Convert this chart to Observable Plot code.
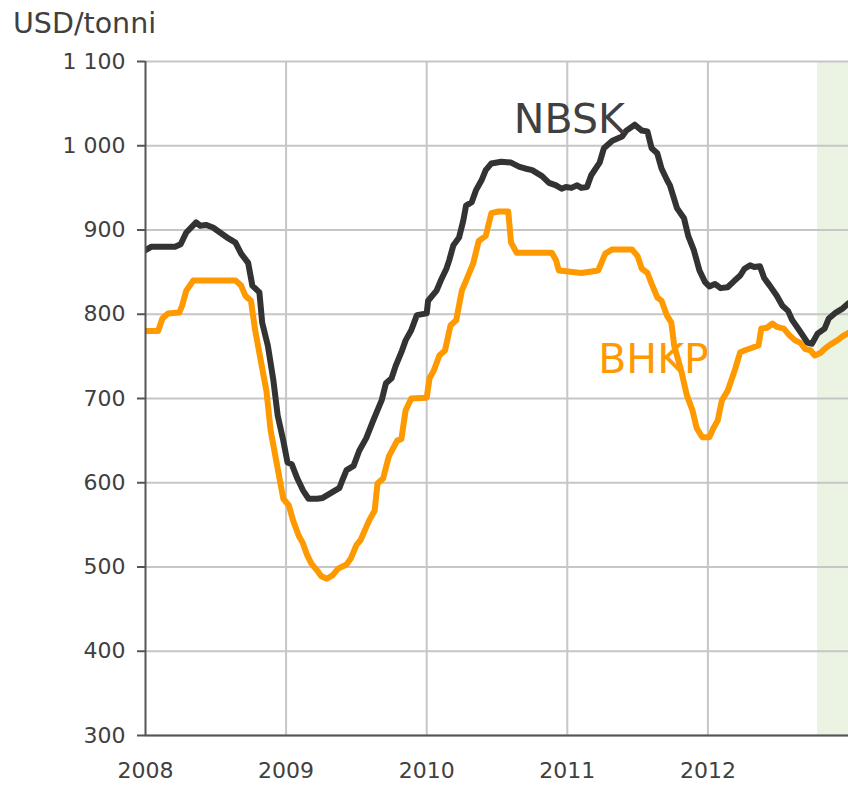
<!DOCTYPE html>
<html><head><meta charset="utf-8">
<script src="https://cdn.jsdelivr.net/npm/d3@7"></script>
<script src="https://cdn.jsdelivr.net/npm/@observablehq/plot@0.6"></script>
<style>
html,body{margin:0;padding:0;background:#fff;overflow:hidden;}
#title{height:45px;font-family:"DejaVu Sans",sans-serif;font-size:28.5px;color:#404040;padding-left:13px;line-height:48px;box-sizing:border-box;}
</style></head><body>
<div id="title">USD/tonni</div>
<div id="chart"></div>
<script>
const nbskYear = [2008.00,2008.04,2008.21,2008.25,2008.29,2008.36,2008.39,2008.43,2008.48,2008.53,2008.59,2008.64,2008.68,2008.73,2008.76,2008.81,2008.83,2008.87,2008.91,2008.94,2008.98,2009.01,2009.04,2009.08,2009.12,2009.16,2009.22,2009.26,2009.32,2009.38,2009.40,2009.43,2009.48,2009.52,2009.57,2009.62,2009.68,2009.71,2009.75,2009.78,2009.82,2009.85,2009.89,2009.93,2010.00,2010.01,2010.07,2010.10,2010.14,2010.16,2010.19,2010.23,2010.26,2010.28,2010.32,2010.35,2010.39,2010.42,2010.46,2010.53,2010.60,2010.66,2010.70,2010.75,2010.82,2010.87,2010.92,2010.96,2010.99,2011.03,2011.07,2011.10,2011.14,2011.17,2011.23,2011.26,2011.32,2011.39,2011.42,2011.48,2011.53,2011.57,2011.60,2011.64,2011.67,2011.71,2011.73,2011.78,2011.83,2011.86,2011.90,2011.94,2011.98,2012.01,2012.05,2012.09,2012.14,2012.19,2012.23,2012.26,2012.30,2012.33,2012.37,2012.40,2012.44,2012.49,2012.53,2012.57,2012.60,2012.65,2012.71,2012.74,2012.78,2012.83,2012.86,2012.91,2012.96,2013.00];
const nbskValue = [876,880,880,883,897,909,905,906,903,897,890,885,872,861,834,826,790,763,721,680,650,624,622,605,591,581,581,582,588,594,603,615,620,638,653,674,698,718,724,739,755,769,781,799,801,816,828,840,854,864,882,891,911,929,933,947,959,971,979,981,980,975,973,971,964,956,953,949,951,950,953,950,951,965,980,997,1006,1011,1018,1025,1018,1017,997,991,973,959,953,926,914,893,876,852,838,833,836,831,832,840,846,854,858,856,857,843,834,822,810,804,793,781,766,765,777,783,795,802,807,813];

const bhkpYear = [2008.00,2008.09,2008.12,2008.16,2008.24,2008.26,2008.29,2008.34,2008.64,2008.68,2008.71,2008.75,2008.78,2008.82,2008.86,2008.89,2008.93,2008.98,2009.02,2009.05,2009.09,2009.12,2009.15,2009.18,2009.22,2009.25,2009.29,2009.33,2009.37,2009.43,2009.46,2009.50,2009.53,2009.59,2009.63,2009.65,2009.69,2009.73,2009.79,2009.82,2009.85,2009.89,2010.00,2010.02,2010.05,2010.09,2010.13,2010.17,2010.21,2010.25,2010.28,2010.33,2010.37,2010.42,2010.46,2010.51,2010.58,2010.60,2010.64,2010.89,2010.92,2010.94,2010.99,2011.10,2011.22,2011.27,2011.32,2011.46,2011.50,2011.53,2011.57,2011.60,2011.64,2011.67,2011.71,2011.74,2011.76,2011.81,2011.85,2011.89,2011.92,2011.96,2012.01,2012.04,2012.07,2012.10,2012.14,2012.19,2012.23,2012.26,2012.31,2012.36,2012.38,2012.42,2012.46,2012.49,2012.54,2012.58,2012.62,2012.66,2012.69,2012.73,2012.76,2012.80,2012.83,2012.87,2012.92,2012.96,2013.00];
const bhkpValue = [780,780,795,801,802,810,828,840,840,834,822,816,781,745,709,662,626,581,573,555,537,528,514,504,496,489,486,490,498,503,510,526,532,555,567,599,605,631,650,652,686,700,701,724,733,751,757,787,793,828,840,860,887,893,920,922,922,885,873,873,864,852,851,849,852,872,877,877,869,854,849,836,820,816,798,790,763,733,704,686,665,654,654,665,674,698,709,733,755,757,760,763,783,784,789,785,783,775,769,766,759,757,751,754,759,764,769,774,778];

const yTicks = [300,400,500,600,700,800,900,1000,1100];
const xTicks = [2008,2009,2010,2011,2012];
const xGrid = [2009,2010,2011,2012];
const bandStart = [2012.78];
const bandEnd = [2013.0];
const seriesLabels = ["NBSK","BHKP"];
const labelYear = [2010.62, 2011.22];
const labelValue = [1031, 746];

const nbsk = nbskYear.map((x,i)=>({x, y:nbskValue[i]}));
const bhkp = bhkpYear.map((x,i)=>({x, y:bhkpValue[i]}));
const band = bandStart.map((s,i)=>({x1:s, x2:bandEnd[i]}));
const labels = seriesLabels.map((t,i)=>({t, x:labelYear[i], y:labelValue[i]}));

const fmt = d3.formatLocale({decimal:",", thousands:" ", grouping:[3], currency:["",""]}).format(",d");

const chart = Plot.plot({
  width: 848,
  height: 740,
  marginTop: 16,
  marginBottom: 50,
  marginLeft: 145,
  marginRight: 0,
  style: {fontFamily:"DejaVu Sans, sans-serif", fontSize:"22px", background:"#fff"},
  x: {domain:[2008,2013]},
  y: {domain:[300,1100]},
  marks: [
    Plot.rect(band, {x1:"x1", x2:"x2", fill:"#ebf3e3"}),
    Plot.gridY(yTicks, {stroke:"#c6c6c6", strokeWidth:2, strokeOpacity:1}),
    Plot.gridX(xGrid, {stroke:"#c6c6c6", strokeWidth:2, strokeOpacity:1}),
    Plot.line(bhkp, {x:"x", y:"y", stroke:"#ff9900", strokeWidth:6, clip:true}),
    Plot.line(nbsk, {x:"x", y:"y", stroke:"#333333", strokeWidth:6, clip:true}),
    Plot.ruleX([2008], {stroke:"#555", strokeWidth:2}),
    Plot.ruleY([300], {stroke:"#555", strokeWidth:2}),
    Plot.axisY(yTicks, {tickSize:8, tickPadding:12, tickFormat:fmt, stroke:"#555", strokeWidth:2, fill:"#404040", fontSize:22, label:null}),
    Plot.axisX(xTicks, {tickSize:0, tickPadding:27, tickFormat:d=>String(d), fill:"#404040", fontSize:22, label:null}),
    Plot.text(labels, {x:"x", y:"y", text:"t", textAnchor:"start", fontSize:41,
      fill: d => d.t === "NBSK" ? "#404040" : "#ff9900"})
  ]
});
document.getElementById("chart").appendChild(chart);
</script>
</body></html>
